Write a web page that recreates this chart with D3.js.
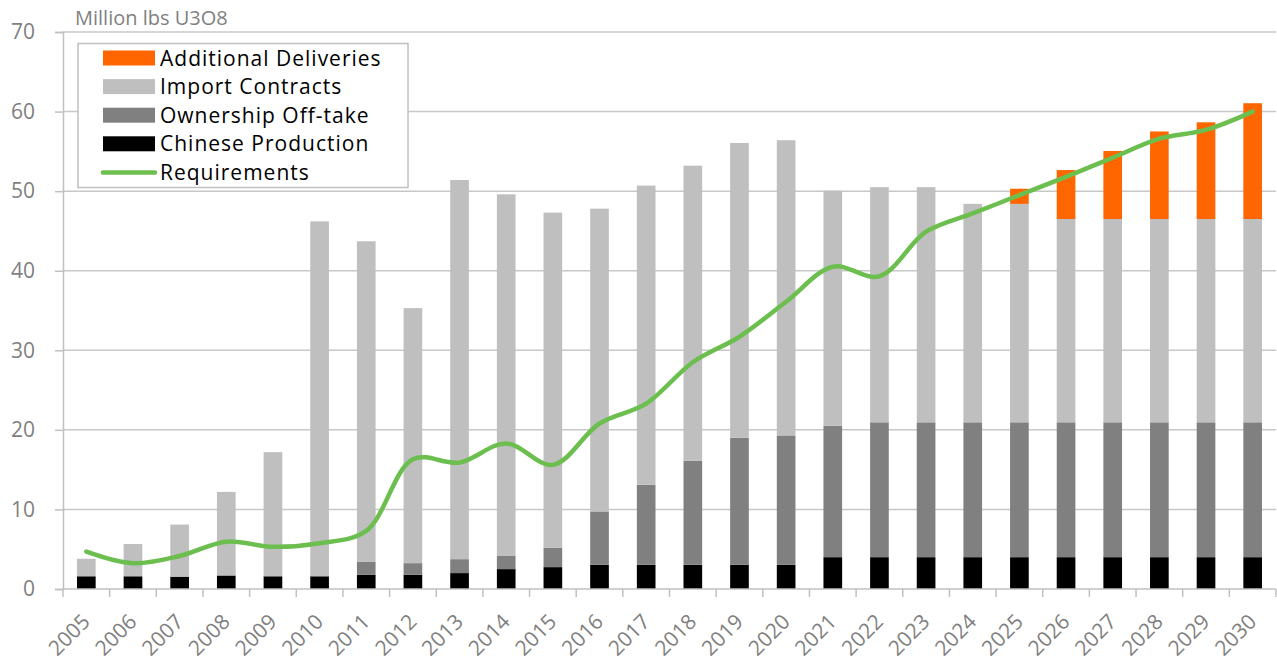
<!DOCTYPE html>
<html>
<head>
<meta charset="utf-8">
<script src="https://cdn.jsdelivr.net/npm/d3@7"></script>
<style>
  body { margin: 0; background: #fff; }
  text { font-family: "Open Sans", "Noto Sans", sans-serif; }
</style>
</head>
<body>
<div id="chart"></div>
<script>
// Categories and series (million lbs U3O8)
const years = ['2005','2006','2007','2008','2009','2010','2011','2012','2013','2014','2015','2016','2017',
  '2018','2019','2020','2021','2022','2023','2024','2025','2026','2027','2028','2029','2030'];
const chineseProduction = [1.6,1.6,1.55,1.7,1.6,1.6,1.8,1.8,2.0,2.5,2.75,3.05,3.05,3.05,3.05,3.05,
  4.0,4.0,4.0,4.0,4.0,4.0,4.0,4.0,4.0,4.0];
const ownershipOfftake = [0,0,0,0,0,0,1.6,1.45,1.75,1.65,2.45,6.7,10.05,13.05,15.95,16.25,
  16.5,16.95,16.95,16.95,16.95,16.95,16.95,16.95,16.95,16.95];
const importContracts = [2.2,4.05,6.55,10.5,15.6,44.6,40.3,32.05,47.65,45.45,42.1,38.05,37.6,37.1,37.05,37.1,
  29.55,29.55,29.55,27.45,27.45,25.55,25.55,25.55,25.55,25.55];
const additionalDeliveries = [0,0,0,0,0,0,0,0,0,0,0,0,0,0,0,0,0,0,0,0,1.9,6.15,8.55,11.0,12.15,14.55];
const requirements = [4.7,3.25,4.15,5.95,5.3,5.75,7.3,16.3,15.9,18.3,15.6,20.8,23.3,28.5,31.7,36.1,
  40.5,39.3,44.9,47.2,49.5,51.8,54.2,56.6,57.7,60.0];
const yTicks = [0,10,20,30,40,50,60,70];

const seriesKeys = ['Chinese Production','Ownership Off-take','Import Contracts','Additional Deliveries'];
const colors = {
  'Chinese Production': '#000000',
  'Ownership Off-take': '#808080',
  'Import Contracts': '#bfbfbf',
  'Additional Deliveries': '#ff6600'
};
const lineColor = '#6cbf4e';

// Table for the stack
const table = years.map((yr, i) => ({
  year: yr,
  'Chinese Production': chineseProduction[i],
  'Ownership Off-take': ownershipOfftake[i],
  'Import Contracts': importContracts[i],
  'Additional Deliveries': additionalDeliveries[i]
}));

// Dimensions and margins
const W = 1277, H = 665;
const margin = { top: 32, right: 1, bottom: 76, left: 63 };
const width = W - margin.left - margin.right;
const height = H - margin.top - margin.bottom;

const x = d3.scaleBand().domain(years).range([0, width]).paddingInner(0.6).paddingOuter(0.3);
const y = d3.scaleLinear().domain([0, 70]).range([height, 0]);

const svg = d3.select('#chart').append('svg')
  .attr('width', W).attr('height', H);
const g = svg.append('g').attr('transform', `translate(${margin.left},${margin.top})`);

// Gridlines
g.append('g')
  .selectAll('line')
  .data(yTicks.filter(t => t > 0))
  .enter().append('line')
  .attr('x1', 0).attr('x2', width)
  .attr('y1', d => y(d)).attr('y2', d => y(d))
  .attr('stroke', '#c8c8c8').attr('stroke-width', 1.5);

// Stacked bars
const stack = d3.stack().keys(seriesKeys)(table);
g.append('g')
  .selectAll('g')
  .data(stack)
  .enter().append('g')
  .attr('fill', d => colors[d.key])
  .selectAll('rect')
  .data(d => d)
  .enter().append('rect')
  .attr('x', d => x(d.data.year))
  .attr('width', x.bandwidth())
  .attr('y', d => y(d[1]))
  .attr('height', d => y(d[0]) - y(d[1]));

// Y axis
const yAxis = g.append('g')
  .call(d3.axisLeft(y).tickValues(yTicks).tickSize(8).tickPadding(20));
yAxis.select('.domain').attr('stroke', '#c0c0c0').attr('stroke-width', 1.5);
yAxis.selectAll('.tick line').attr('stroke', '#c0c0c0').attr('stroke-width', 1.5);
yAxis.selectAll('.tick text').attr('fill', '#7f7f7f').style('font-size', '21px');

// X axis with ticks on band boundaries
const xAxisG = g.append('g').attr('transform', `translate(0,${height})`);
xAxisG.append('line')
  .attr('x1', 0).attr('x2', width)
  .attr('stroke', '#c0c0c0').attr('stroke-width', 1.5);
const step = x.step();
xAxisG.selectAll('.xtick')
  .data(d3.range(years.length + 1))
  .enter().append('line')
  .attr('class', 'xtick')
  .attr('x1', i => i * step).attr('x2', i => i * step)
  .attr('y1', 0).attr('y2', 8)
  .attr('stroke', '#c0c0c0').attr('stroke-width', 1.5);
xAxisG.selectAll('.xlab')
  .data(years)
  .enter().append('text')
  .attr('class', 'xlab')
  .attr('text-anchor', 'end')
  .attr('transform', d => `translate(${x(d) + x.bandwidth() / 2 + 5},${34}) rotate(-45)`)
  .attr('fill', '#7f7f7f')
  .style('font-size', '21px')
  .text(d => d);

// Requirements line
const line = d3.line()
  .x((d, i) => x(years[i]) + x.bandwidth() / 2)
  .y(d => y(d))
  .curve(d3.curveCatmullRom.alpha(0.5));
g.append('path')
  .datum(requirements)
  .attr('fill', 'none')
  .attr('stroke', lineColor)
  .attr('stroke-width', 4.5)
  .attr('stroke-linecap', 'round')
  .attr('d', line);

// Axis title
svg.append('text')
  .attr('x', 75).attr('y', 25)
  .attr('fill', '#7f7f7f')
  .style('font-size', '20px')
  .text('Million lbs U3O8');

// Legend
const legend = svg.append('g');
legend.append('rect')
  .attr('x', 78).attr('y', 43.5)
  .attr('width', 330).attr('height', 144)
  .attr('fill', '#fff')
  .attr('stroke', '#c0c0c0').attr('stroke-width', 1.5);
const legendItems = ['Additional Deliveries','Import Contracts','Ownership Off-take','Chinese Production','Requirements'];
const rows = legend.selectAll('.legend')
  .data(legendItems)
  .enter().append('g')
  .attr('class', 'legend')
  .attr('transform', (d, i) => `translate(0,${58 + i * 28.6})`);
rows.filter(d => d !== 'Requirements').append('rect')
  .attr('x', 103).attr('y', -7.5)
  .attr('width', 52).attr('height', 15)
  .attr('fill', d => colors[d]);
rows.filter(d => d === 'Requirements').append('line')
  .attr('x1', 103).attr('x2', 155)
  .attr('stroke', lineColor).attr('stroke-width', 4.5)
  .attr('stroke-linecap', 'round');
rows.append('text')
  .attr('x', 160).attr('dy', '0.36em')
  .attr('fill', '#000')
  .style('font-size', '21px')
  .style('letter-spacing', '1px')
  .text(d => d);
</script>
</body>
</html>
